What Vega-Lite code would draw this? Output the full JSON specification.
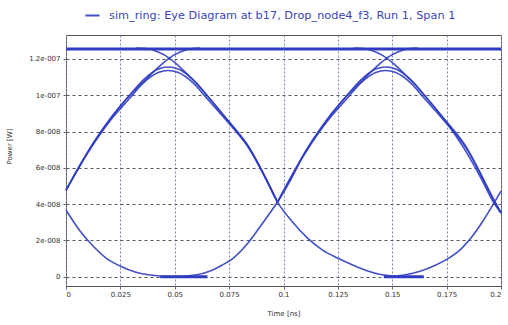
{
  "$schema": "https://vega.github.io/schema/vega-lite/v6.json",
  "width": 435,
  "height": 251,
  "autosize": "none",
  "padding": {"left": 66, "top": 35, "right": 7, "bottom": 39},
  "background": "white",
  "config": {
    "view": {"stroke": "#555555", "strokeWidth": 1},
    "font": "DejaVu Sans",
    "axis": {
      "labelFont": "DejaVu Sans",
      "labelFontSize": 7,
      "labelColor": "#333333",
      "titleFont": "DejaVu Sans",
      "titleFontSize": 7,
      "titleFontWeight": "normal",
      "titleColor": "#333333",
      "domain": false,
      "tickColor": "#666666",
      "tickSize": 3
    }
  },
  "datasets": {
    "curves": [
      {"s":"P","t":0,"v":4.777e-8},{"s":"P","t":0.00968,"v":6.815e-8},{"s":"P","t":0.01567,"v":7.917e-8},{"s":"P","t":0.02166,"v":8.909e-8},{"s":"P","t":0.02857,"v":9.901e-8},{"s":"P","t":0.03548,"v":10.837e-8},{"s":"P","t":0.0424,"v":11.444e-8},{"s":"P","t":0.047,"v":11.554e-8},{"s":"P","t":0.05161,"v":11.444e-8},{"s":"P","t":0.05853,"v":10.837e-8},{"s":"P","t":0.06544,"v":9.901e-8},{"s":"P","t":0.07235,"v":8.909e-8},{"s":"P","t":0.07788,"v":8.083e-8},{"s":"P","t":0.08341,"v":7.256e-8},{"s":"P","t":0.09032,"v":5.769e-8},{"s":"P","t":0.09724,"v":4.116e-8},{"s":"P","t":0.10415,"v":3.014e-8},{"s":"P","t":0.11106,"v":2.132e-8},{"s":"P","t":0.11797,"v":1.471e-8},{"s":"P","t":0.12488,"v":1.03e-8},{"s":"P","t":0.1318,"v":0.645e-8},{"s":"P","t":0.13871,"v":0.314e-8},{"s":"P","t":0.1447,"v":0.121e-8},{"s":"P","t":0.15069,"v":0.039e-8},{"s":"P","t":0.15668,"v":0.121e-8},{"s":"P","t":0.16313,"v":0.314e-8},{"s":"P","t":0.17005,"v":0.645e-8},{"s":"P","t":0.17604,"v":1.03e-8},{"s":"P","t":0.18157,"v":1.526e-8},{"s":"P","t":0.18618,"v":2.132e-8},{"s":"P","t":0.19171,"v":3.069e-8},{"s":"P","t":0.19677,"v":4.061e-8},{"s":"P","t":0.2,"v":4.722e-8},

      {"s":"Q","t":0,"v":3.675e-8},{"s":"Q","t":0.00645,"v":2.518e-8},{"s":"Q","t":0.01244,"v":1.691e-8},{"s":"Q","t":0.01843,"v":1.03e-8},{"s":"Q","t":0.02488,"v":0.59e-8},{"s":"Q","t":0.0318,"v":0.259e-8},{"s":"Q","t":0.03871,"v":0.094e-8},{"s":"Q","t":0.04931,"v":0.011e-8},{"s":"Q","t":0.05945,"v":0.094e-8},{"s":"Q","t":0.06636,"v":0.314e-8},{"s":"Q","t":0.07189,"v":0.645e-8},{"s":"Q","t":0.07696,"v":1.03e-8},{"s":"Q","t":0.08249,"v":1.691e-8},{"s":"Q","t":0.08848,"v":2.628e-8},{"s":"Q","t":0.09309,"v":3.399e-8},{"s":"Q","t":0.09724,"v":4.116e-8},{"s":"Q","t":0.10323,"v":5.328e-8},{"s":"Q","t":0.10968,"v":6.815e-8},{"s":"Q","t":0.11567,"v":7.917e-8},{"s":"Q","t":0.12166,"v":8.909e-8},{"s":"Q","t":0.12857,"v":9.901e-8},{"s":"Q","t":0.13548,"v":10.837e-8},{"s":"Q","t":0.1424,"v":11.444e-8},{"s":"Q","t":0.147,"v":11.554e-8},{"s":"Q","t":0.15161,"v":11.444e-8},{"s":"Q","t":0.15853,"v":10.837e-8},{"s":"Q","t":0.16544,"v":9.901e-8},{"s":"Q","t":0.17235,"v":8.909e-8},{"s":"Q","t":0.17834,"v":7.917e-8},{"s":"Q","t":0.18433,"v":6.815e-8},{"s":"Q","t":0.19078,"v":5.438e-8},{"s":"Q","t":0.19677,"v":4.061e-8},{"s":"Q","t":0.2,"v":3.51e-8},

      {"s":"H1","t":0,"v":4.75e-8},{"s":"H1","t":0.00968,"v":6.76e-8},{"s":"H1","t":0.02166,"v":8.799e-8},{"s":"H1","t":0.02857,"v":9.735e-8},{"s":"H1","t":0.03548,"v":10.672e-8},{"s":"H1","t":0.0424,"v":11.251e-8},{"s":"H1","t":0.047,"v":11.361e-8},{"s":"H1","t":0.05161,"v":11.251e-8},{"s":"H1","t":0.05853,"v":10.672e-8},{"s":"H1","t":0.06544,"v":9.735e-8},{"s":"H1","t":0.07235,"v":8.799e-8},{"s":"H1","t":0.08341,"v":7.201e-8},{"s":"H1","t":0.09724,"v":4.116e-8},

      {"s":"H2","t":0.09724,"v":4.116e-8},{"s":"H2","t":0.10968,"v":6.76e-8},{"s":"H2","t":0.12166,"v":8.799e-8},{"s":"H2","t":0.12857,"v":9.735e-8},{"s":"H2","t":0.13548,"v":10.672e-8},{"s":"H2","t":0.1424,"v":11.251e-8},{"s":"H2","t":0.147,"v":11.361e-8},{"s":"H2","t":0.15161,"v":11.251e-8},{"s":"H2","t":0.15853,"v":10.672e-8},{"s":"H2","t":0.16544,"v":9.735e-8},{"s":"H2","t":0.17235,"v":8.799e-8},{"s":"H2","t":0.18341,"v":7.201e-8},{"s":"H2","t":0.19724,"v":4.116e-8},{"s":"H2","t":0.2,"v":3.55e-8},

      {"s":"R1","t":0,"v":4.777e-8},{"s":"R1","t":0.00968,"v":6.815e-8},{"s":"R1","t":0.02166,"v":8.909e-8},{"s":"R1","t":0.02857,"v":9.901e-8},{"s":"R1","t":0.0341,"v":10.562e-8},{"s":"R1","t":0.03871,"v":11.113e-8},{"s":"R1","t":0.04332,"v":11.636e-8},{"s":"R1","t":0.04747,"v":12.05e-8},{"s":"R1","t":0.05253,"v":12.38e-8},{"s":"R1","t":0.05806,"v":12.573e-8},{"s":"R1","t":0.06175,"v":12.6e-8},

      {"s":"F1","t":0.03226,"v":12.6e-8},{"s":"F1","t":0.03687,"v":12.573e-8},{"s":"F1","t":0.0424,"v":12.38e-8},{"s":"F1","t":0.04747,"v":12.05e-8},{"s":"F1","t":0.05161,"v":11.636e-8},{"s":"F1","t":0.05622,"v":11.113e-8},{"s":"F1","t":0.06083,"v":10.562e-8},{"s":"F1","t":0.06544,"v":9.901e-8},{"s":"F1","t":0.07235,"v":8.909e-8},{"s":"F1","t":0.08341,"v":7.256e-8},{"s":"F1","t":0.09724,"v":4.116e-8},

      {"s":"R2","t":0.09724,"v":4.116e-8},{"s":"R2","t":0.10968,"v":6.815e-8},{"s":"R2","t":0.12166,"v":8.909e-8},{"s":"R2","t":0.12857,"v":9.901e-8},{"s":"R2","t":0.1341,"v":10.562e-8},{"s":"R2","t":0.13871,"v":11.113e-8},{"s":"R2","t":0.14332,"v":11.636e-8},{"s":"R2","t":0.14747,"v":12.05e-8},{"s":"R2","t":0.15253,"v":12.38e-8},{"s":"R2","t":0.15806,"v":12.573e-8},{"s":"R2","t":0.16175,"v":12.6e-8},

      {"s":"F2","t":0.13226,"v":12.6e-8},{"s":"F2","t":0.13687,"v":12.573e-8},{"s":"F2","t":0.1424,"v":12.38e-8},{"s":"F2","t":0.14747,"v":12.05e-8},{"s":"F2","t":0.15161,"v":11.636e-8},{"s":"F2","t":0.15622,"v":11.113e-8},{"s":"F2","t":0.16083,"v":10.562e-8},{"s":"F2","t":0.16544,"v":9.901e-8},{"s":"F2","t":0.17235,"v":8.909e-8},{"s":"F2","t":0.18341,"v":7.256e-8},{"s":"F2","t":0.19724,"v":4.116e-8},{"s":"F2","t":0.2,"v":3.5e-8}
    ],
    "levels": [
      {"s":"T","t":0,"v":12.55e-8},{"s":"T","t":0.2,"v":12.55e-8},
      {"s":"B1","t":0.0433,"v":0},{"s":"B1","t":0.065,"v":0},
      {"s":"B2","t":0.1461,"v":0},{"s":"B2","t":0.1645,"v":0}
    ]
  },
  "encoding": {
    "x": {
      "field": "t", "type": "quantitative",
      "scale": {"domain": [0, 0.2], "nice": false, "zero": false},
      "axis": {
        "title": "Time [ns]",
        "values": [0, 0.025, 0.05, 0.075, 0.1, 0.125, 0.15, 0.175, 0.2],
        "labelExpr": "'' + datum.value",
        "grid": true, "gridColor": "#7d86b8", "gridDash": [2, 2], "gridWidth": 1,
        "labelPadding": 1,
        "titlePadding": 12
      }
    },
    "y": {
      "field": "v", "type": "quantitative",
      "scale": {"domain": [-5.1e-9, 1.332e-7], "nice": false, "zero": false},
      "axis": {
        "title": "Power [W]",
        "values": [0, 2e-8, 4e-8, 6e-8, 8e-8, 1e-7, 1.2e-7],
        "labelExpr": "datum.value == 0 ? '0' : replace(format(datum.value, '~e'), 'e-', 'e-00')",
        "grid": true, "gridColor": "#555566", "gridDash": [3, 3], "gridWidth": 1,
        "labelPadding": 3,
        "titleX": -54, "titleY": 111
      }
    }
  },
  "layer": [
    {
      "mark": {"type": "rule", "color": "#7a7c98", "strokeWidth": 1.2},
      "encoding": {"y": {"datum": 0}, "x": null}
    },
    {
      "data": {"name": "curves"},
      "mark": {"type": "line", "interpolate": "monotone", "strokeWidth": 1.6, "opacity": 0.9},
      "encoding": {
        "detail": {"field": "s"},
        "color": {
          "datum": "sim_ring: Eye Diagram at b17, Drop_node4_f3, Run 1, Span 1",
          "scale": {"range": ["#2f3cc2"]},
          "legend": {
            "orient": "none", "legendX": 18, "legendY": -28,
            "title": null, "symbolType": "stroke", "symbolStrokeWidth": 2,
            "symbolSize": 200, "labelFont": "DejaVu Sans", "labelFontSize": 11.3,
            "labelColor": "#3a46b8", "labelLimit": 600, "labelOffset": 8
          }
        }
      }
    },
    {
      "data": {"name": "levels"},
      "mark": {"type": "line", "strokeWidth": 3},
      "encoding": {
        "detail": {"field": "s"},
        "color": {"datum": "sim_ring: Eye Diagram at b17, Drop_node4_f3, Run 1, Span 1"}
      }
    }
  ]
}
